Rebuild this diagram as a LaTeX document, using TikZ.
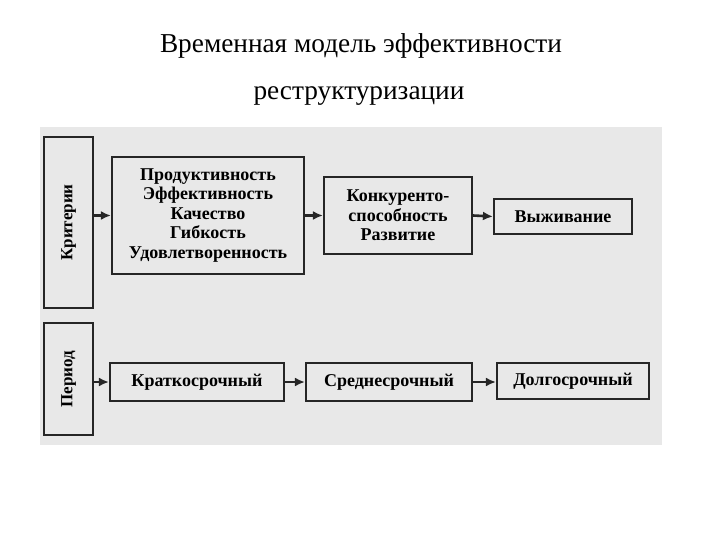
\documentclass[tikz,border=0pt]{standalone}
\usepackage{fontspec}
\setmainfont{Liberation Serif}
\usetikzlibrary{arrows.meta}
\begin{document}
\begin{tikzpicture}[x=1pt,y=-1pt,
  bx/.style={draw=black!85,line width=2.2pt,fill=black!9,inner sep=0pt,font=\bfseries\fontsize{18}{19.5}\selectfont},
  vt/.style={font=\bfseries\fontsize{17}{19}\selectfont,rotate=90},
  ar/.style={-{Latex[length=10pt,width=9pt]},line width=2.6pt,black!85}]
\useasboundingbox (0,0) rectangle (720,540);
\node[font=\fontsize{27.3}{30}\selectfont,anchor=base] (t1) at (361,53) {Временная модель эффективности};
\node[font=\fontsize{27.3}{30}\selectfont,anchor=base] (t2) at (359,100) {реструктуризации};
\fill[black!9] (40,127) rectangle (662,445);
% left tall boxes
\node[bx,minimum width=49pt,minimum height=171pt] (krit) at (68.5,222.5) {};
\node[vt] at (krit.center) {Критерии};
\node[bx,minimum width=49pt,minimum height=112pt] (per) at (68.5,379) {};
\node[vt] at (per.center) {Период};
% row 1
\node[bx,minimum width=192pt,minimum height=117pt,align=center] (b1) at (208,215.5) {Продуктивность\\Эффективность\\Качество\\Гибкость\\Удовлетворенность};
\node[bx,minimum width=148pt,minimum height=77pt,align=center] (b2) at (398,215.5) {Конкуренто-\\способность\\Развитие};
\node[bx,minimum width=138pt,minimum height=35pt] (b3) at (563,216.5) {Выживание};
% row 2
\node[bx,minimum width=174pt,minimum height=38pt] (c1) at (197,382) {Краткосрочный};
\node[bx,minimum width=166pt,minimum height=38pt] (c2) at (389,382) {Среднесрочный};
\node[bx,minimum width=152pt,minimum height=36pt] (c3) at (573,381) {Долгосрочный};
% arrows
\draw[ar] (krit.east |- b1.west) -- (b1.west);
\draw[ar] (b1.east) -- (b2.west);
\draw[ar] (b2.east) -- (b3.west);
\draw[ar] (per.east |- c1.west) -- (c1.west);
\draw[ar] (c1.east) -- (c2.west);
\draw[ar] (c2.east) -- (c3.west |- c2.east);
\end{tikzpicture}
\end{document}
